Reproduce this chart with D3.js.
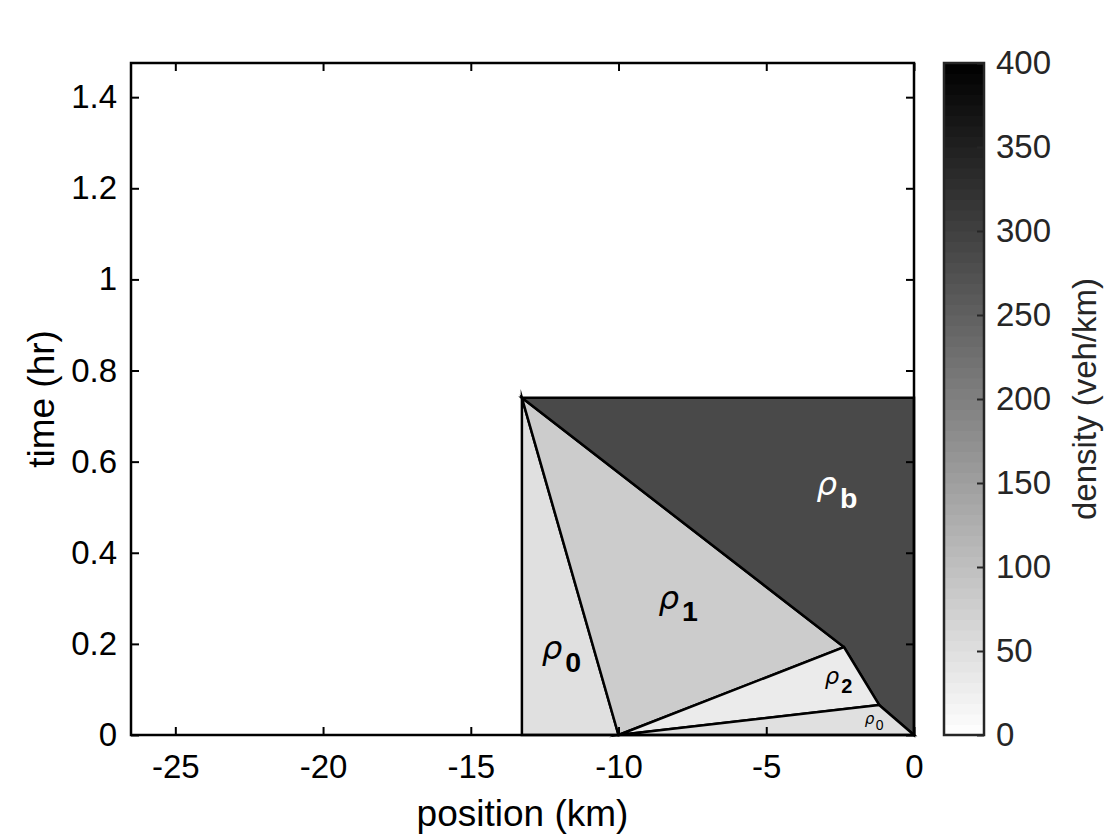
<!DOCTYPE html>
<html>
<head>
<meta charset="utf-8">
<script src="https://cdn.jsdelivr.net/npm/d3@7"></script>
<style>
  body { margin: 0; background: #fff; }
  text { font-family: "Liberation Sans", Arial, sans-serif; }
</style>
</head>
<body>
<script>
// region data: density (veh/km) and polygon corners (position km, time hr)
const regionNames = ["rho0", "rho1", "rhob", "rho2", "rho0b"];
const regionDensity = [49, 80, 285, 31, 49];
const regionPolys = [
  [[-13.27, 0], [-13.27, 0.74], [-10, 0]],
  [[-13.27, 0.74], [-10, 0], [-2.37, 0.193]],
  [[-13.27, 0.74], [0, 0.74], [0, 0], [-1.18, 0.066], [-2.37, 0.193]],
  [[-10, 0], [-2.37, 0.193], [-1.18, 0.066]],
  [[-10, 0], [-1.18, 0.066], [0, 0]]
];

// labels: [x km, t hr], subscript text, sizes
const labelPos = [[-12.6, 0.167], [-8.65, 0.277], [-3.3, 0.527], [-3.02, 0.112], [-1.67, 0.024]];
const labelSub = ["0", "1", "b", "2", "0"];
const labelSize = [30, 30, 30, 21, 14];
const labelColor = ["#000", "#000", "#fff", "#000", "#000"];

const xTicks = [-25, -20, -15, -10, -5, 0];
const yTicks = [0, 0.2, 0.4, 0.6, 0.8, 1, 1.2, 1.4];
const cTicks = [0, 50, 100, 150, 200, 250, 300, 350, 400];

const W = 1120, H = 840;
const plot = { left: 131, right: 914, top: 63, bottom: 735 };
const cbar = { left: 944, right: 984 };

const svg = d3.select("body").append("svg")
  .attr("width", W)
  .attr("height", H);

const x = d3.scaleLinear().domain([-26.5, 0]).range([plot.left, plot.right]);
const y = d3.scaleLinear().domain([0, 1.475]).range([plot.bottom, plot.top]);
const c = d3.scaleLinear().domain([0, 400]).range(["#ffffff", "#000000"]);
const cy = d3.scaleLinear().domain([0, 400]).range([plot.bottom, plot.top]);

const fmt = d => String(d); // plain hyphen minus like the original

// filled regions
const line = d3.line().x(d => x(d[0])).y(d => y(d[1]));
svg.append("g")
  .selectAll("path")
  .data(regionPolys)
  .join("path")
  .attr("d", d => line(d) + "Z")
  .attr("fill", (_, i) => c(regionDensity[i]))
  .attr("stroke", "#000")
  .attr("stroke-width", 2.5)
  .attr("stroke-linejoin", "miter")
  .attr("stroke-miterlimit", 10);

// region labels
const lab = svg.append("g")
  .selectAll("text")
  .data(labelPos)
  .join("text")
  .attr("x", d => x(d[0]))
  .attr("y", d => y(d[1]))
  .attr("fill", (_, i) => labelColor[i])
  .style("font-size", (_, i) => labelSize[i] + "px");
lab.append("tspan")
  .style("font-style", "italic")
  .style("font-family", "'DejaVu Sans'")
  .style("font-size", (_, i) => labelSize[i] * 1.08 + "px")
  .text("\u03c1");
lab.append("tspan")
  .attr("dx", (_, i) => labelSize[i] * 0.1)
  .attr("dy", (_, i) => labelSize[i] * 0.42)
  .style("font-weight", (_, i) => i === 4 ? "normal" : "bold")
  .style("font-size", (_, i) => (i === 4 ? 14 : labelSize[i] * 0.95) + "px")
  .text((_, i) => labelSub[i]);

// axes
const gx = svg.append("g")
  .attr("transform", `translate(0,${plot.bottom})`)
  .call(d3.axisBottom(x).tickValues(xTicks).tickSize(-8).tickPadding(20).tickFormat(fmt));
const gxt = svg.append("g")
  .attr("transform", `translate(0,${plot.top})`)
  .call(d3.axisTop(x).tickValues(xTicks).tickSize(-8).tickFormat(""));
const gy = svg.append("g")
  .attr("transform", `translate(${plot.left},0)`)
  .call(d3.axisLeft(y).tickValues(yTicks).tickSize(-8).tickPadding(14).tickFormat(fmt));
const gyr = svg.append("g")
  .attr("transform", `translate(${plot.right},0)`)
  .call(d3.axisRight(y).tickValues(yTicks).tickSize(-8).tickFormat(""));

[gx, gxt, gy, gyr].forEach(g => {
  g.select(".domain").remove();
  g.selectAll(".tick line").attr("stroke", "#000").attr("stroke-width", 2);
  g.selectAll("text").attr("fill", "#000").style("font-size", "33px").attr("font-family", null);
});

svg.append("rect")
  .attr("x", plot.left)
  .attr("y", plot.top)
  .attr("width", plot.right - plot.left)
  .attr("height", plot.bottom - plot.top)
  .attr("fill", "none")
  .attr("stroke", "#000")
  .attr("stroke-width", 2.5);

// axis titles
svg.append("text")
  .attr("x", (plot.left + plot.right) / 2)
  .attr("y", 826)
  .attr("text-anchor", "middle")
  .style("font-size", "37px")
  .text("position (km)");

svg.append("text")
  .attr("transform", `translate(54,${(plot.top + plot.bottom) / 2}) rotate(-90)`)
  .attr("text-anchor", "middle")
  .style("font-size", "37px")
  .text("time (hr)");

// colorbar, 64 steps like the gray colormap
const steps = d3.range(64).map(i => [i * 400 / 64, (i + 1) * 400 / 64]);
svg.append("g")
  .selectAll("rect")
  .data(steps)
  .join("rect")
  .attr("x", cbar.left)
  .attr("width", cbar.right - cbar.left)
  .attr("y", d => cy(d[1]))
  .attr("height", d => cy(d[0]) - cy(d[1]) + 0.5)
  .attr("fill", d => c((d[0] + d[1]) / 2));

const gc = svg.append("g")
  .attr("transform", `translate(${cbar.right},0)`)
  .call(d3.axisRight(cy).tickValues(cTicks).tickSize(-7).tickPadding(12));
gc.select(".domain").remove();
gc.selectAll(".tick line").attr("stroke", "#262626").attr("stroke-width", 2);
gc.selectAll("text").attr("fill", "#262626").style("font-size", "33px").attr("font-family", null);

svg.append("rect")
  .attr("x", cbar.left)
  .attr("y", plot.top)
  .attr("width", cbar.right - cbar.left)
  .attr("height", plot.bottom - plot.top)
  .attr("fill", "none")
  .attr("stroke", "#262626")
  .attr("stroke-width", 2.5);

svg.append("text")
  .attr("transform", `translate(1096,${(plot.top + plot.bottom) / 2}) rotate(-90)`)
  .attr("text-anchor", "middle")
  .attr("fill", "#262626")
  .style("font-size", "33px")
  .text("density (veh/km)");
</script>
</body>
</html>
